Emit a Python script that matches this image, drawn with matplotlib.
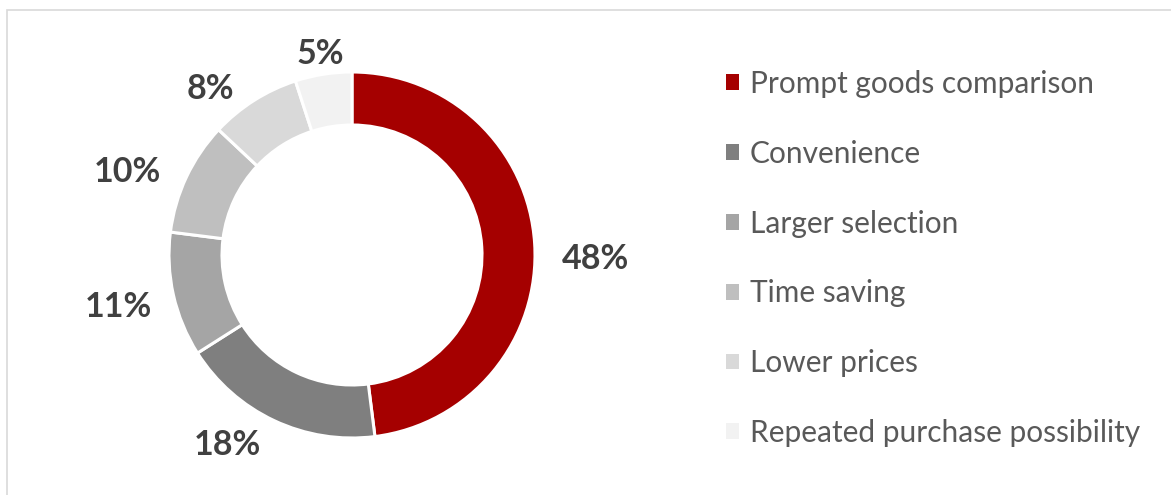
import matplotlib.pyplot as plt
from matplotlib.patches import Rectangle
import numpy as np

plt.rcParams['font.family'] = ['Lato', 'DejaVu Sans']

categories = ['Prompt goods comparison', 'Convenience', 'Larger selection',
              'Time saving', 'Lower prices', 'Repeated purchase possibility']
shares = [48, 18, 11, 10, 8, 5]
colors = ['#A50000', '#7F7F7F', '#A5A5A5', '#BFBFBF', '#D9D9D9', '#F2F2F2']

# label placement tweaks (radius, angle shift in degrees), mimicking Excel "outside end"
label_r = [1.33, 1.24, 1.31, 1.31, 1.19, 1.11]
label_shift = [-4.5, -8, 0, 5, 8, 0]

W, H = 1171, 495
fig = plt.figure(figsize=(W / 100, H / 100), dpi=100)

# pie centre at (352, 255) px, outer radius 183 px
R = 183
cx, cy = 352, 255
half = 1.5 * R
ax = fig.add_axes([(cx - half) / W, (H - cy - half) / H, 2 * half / W, 2 * half / H])

wedges, _ = ax.pie(shares, colors=colors, startangle=90, counterclock=False,
                   radius=1, wedgeprops=dict(width=53 / R, edgecolor='white', linewidth=2.2))
ax.set_xlim(-1.5, 1.5)
ax.set_ylim(-1.5, 1.5)
ax.axis('off')

for w, v, r, s in zip(wedges, shares, label_r, label_shift):
    ang = np.deg2rad((w.theta1 + w.theta2) / 2 + s)
    ax.text(r * np.cos(ang), r * np.sin(ang), f'{v}%', ha='center', va='center',
            fontsize=24.5, fontweight='bold', color='#404040')

fs = 21.5
fs_px = fs * 100 / 72
fig.legend(wedges, categories, loc='upper left',
           bbox_to_anchor=(726 / W, (H - 70) / H), frameon=False,
           fontsize=fs, labelcolor='#595959',
           handlelength=13 / fs_px, handleheight=13 / fs_px,
           handletextpad=11 / fs_px, labelspacing=1.4, borderpad=0, borderaxespad=0)
for h in fig.legends[0].legend_handles:
    h.set_edgecolor('none')

fig.add_artist(Rectangle((7 / W, -0.1), 1.2, (H - 10) / H + 0.1, transform=fig.transFigure,
                         fill=False, edgecolor='#D9D9D9', linewidth=1.2))

fig.savefig('out.png', dpi=100)
